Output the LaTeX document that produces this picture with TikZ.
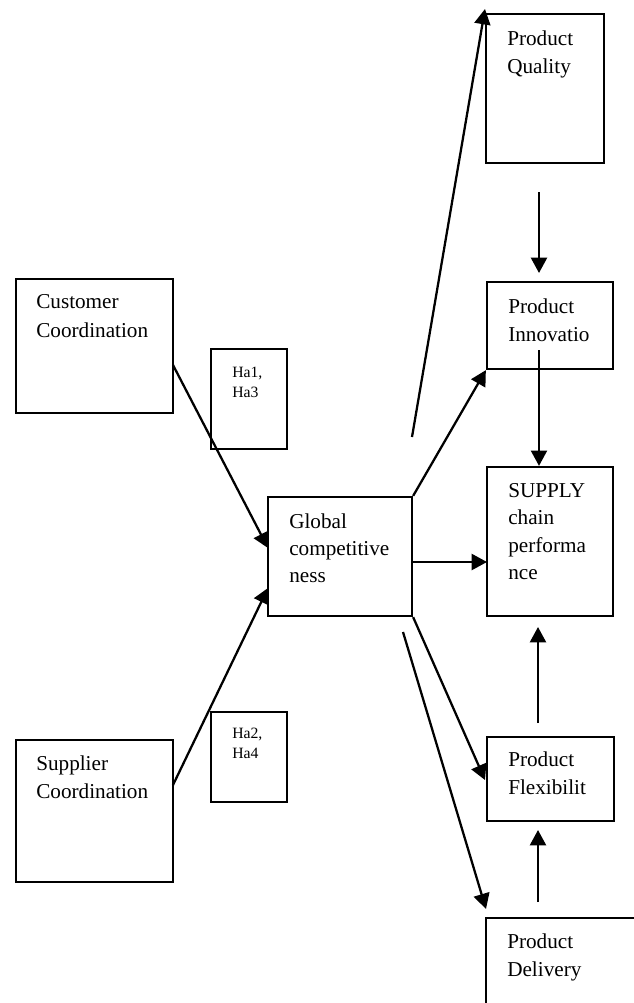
\documentclass[tikz,border=0pt]{standalone}
\usepackage{fontspec}
\setmainfont{Liberation Serif}
\usetikzlibrary{arrows.meta,fit}
\begin{document}
\begin{tikzpicture}[x=0.75pt,y=-0.75pt,
  box/.style={draw=black,line width=1.7pt,inner sep=0pt},
  lbl/.style={anchor=base west,inner sep=0pt,font=\fontsize{15.9}{21}\selectfont},
  slbl/.style={anchor=base west,inner sep=0pt,font=\fontsize{11.8}{15}\selectfont},
  arr/.style={line width=1.7pt,-{Triangle[length=11.5pt,width=12pt]}}]
\useasboundingbox (0,0) rectangle (633,1003);
% boxes
\node[box,fit={(486,14)(604,163)}] (qual) {};
\node[box,fit={(487,282)(613,369)}] (innov) {};
\node[box,fit={(487,467)(613,616)}] (supply) {};
\node[box,fit={(487,737)(614,821)}] (flex) {};
\node[box,fit={(486,918)(645,1015)}] (deliv) {};
\node[box,fit={(268,497)(412,616)}] (glob) {};
\node[box,fit={(16,279)(173,413)}] (cust) {};
\node[box,fit={(16,740)(173,882)}] (supp) {};
\node[box,fit={(211,349)(287,449)}] (ha1) {};
\node[box,fit={(211,712)(287,802)}] (ha2) {};
% texts
\node[lbl] (t1) at (507,45) {Product};
\node[lbl] (t2) at (507,73) {Quality};
\node[lbl] (t3) at (508,313) {Product};
\node[lbl] (t4) at (508,341) {Innovatio};
\node[lbl] (t5) at (508,497) {SUPPLY};
\node[lbl] (t6) at (508,524) {chain};
\node[lbl] (t7) at (508,552) {performa};
\node[lbl] (t8) at (508,579) {nce};
\node[lbl] (t9) at (508,766) {Product};
\node[lbl] (t10) at (508,794) {Flexibilit};
\node[lbl] (t11) at (507,948) {Product};
\node[lbl] (t12) at (507,976) {Delivery};
\node[lbl] (t13) at (289,528) {Global};
\node[lbl] (t14) at (289,555) {competitive};
\node[lbl] (t15) at (289,582) {ness};
\node[lbl] (t16) at (36,308) {Customer};
\node[lbl] (t17) at (36,337) {Coordination};
\node[lbl] (t18) at (36,770) {Supplier};
\node[lbl] (t19) at (36,798) {Coordination};
\node[slbl] (t20) at (232,377) {Ha1,};
\node[slbl] (t21) at (232,397) {Ha3};
\node[slbl] (t22) at (232,738) {Ha2,};
\node[slbl] (t23) at (232,758) {Ha4};
% free ends
\coordinate (q0) at (412,437);
\coordinate (q1) at (485,9);
\coordinate (qi0) at (539,192);
\coordinate (qi1) at (539,273);
\coordinate (is0) at (539,350);
\coordinate (c0) at (173,365);
\coordinate (g1) at (268,548);
\coordinate (s0) at (173,785);
\coordinate (g2) at (268,588);
\coordinate (gs) at (412,562);
\coordinate (ss) at (487,562);
\coordinate (f1) at (485,780);
\coordinate (d0) at (403,632);
\coordinate (d1) at (486,909);
\coordinate (fs0) at (538,723);
\coordinate (fs1) at (538,627);
\coordinate (df0) at (538,902);
\coordinate (df1) at (538,830);
% connectors
\draw[arr] (q0) -- (q1);
\draw[arr] (qi0) -- (qi1);
\draw[arr] (is0) -- (is0 |- supply.north);
\draw[arr] (glob.north east) -- (innov.south west);
\draw[arr] (gs) -- (ss);
\draw[arr] (c0) -- (g1);
\draw[arr] (s0) -- (g2);
\draw[arr] (glob.south east) -- (f1);
\draw[arr] (d0) -- (d1);
\draw[arr] (fs0) -- (fs1);
\draw[arr] (df0) -- (df1);
\end{tikzpicture}
\end{document}
